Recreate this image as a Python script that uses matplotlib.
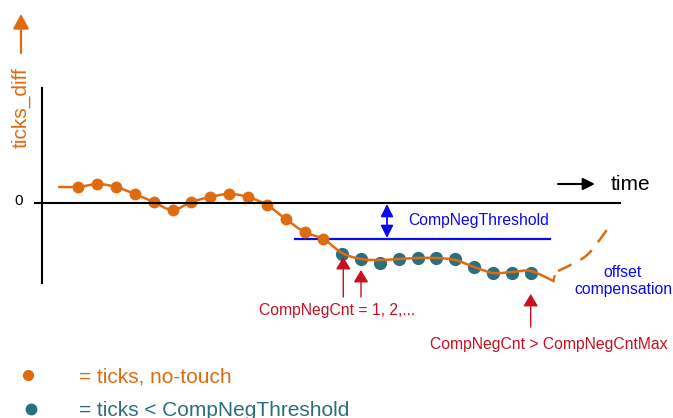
import numpy as np
import matplotlib
matplotlib.use("Agg")
import matplotlib.pyplot as plt

plt.rcParams['font.family'] = ['Liberation Sans', 'DejaVu Sans']

ORANGE = "#DE6B10"
TEAL = "#2B6F7E"
BLUE = "#0A0AF0"
RED = "#C8101E"

# samples (time index) and ticks_diff values
t_orange = list(range(1, 15))
v_orange = [16, 19, 16, 9, 1, -7, 1, 6, 9, 6, -2, -16, -29, -36]
t_teal = list(range(15, 26))
v_teal = [-51, -56, -60, -56, -55, -55, -56, -64, -70, -70, -70]
# the underlying signal drawn as a line (runs just over the teal samples)
t_curve = [0, 1, 2, 3, 4, 5, 6, 7, 8, 9, 10, 11, 12, 13, 14,
           15, 16, 17, 18, 19, 20, 21, 22, 23, 24, 25, 26.2]
v_curve = [16, 16, 19, 16, 9, 1, -7, 1, 6, 9, 6, -2, -16, -29, -36,
           -50, -56, -57, -56, -55, -55, -57, -64, -70, -69, -68, -78]
# small hook at the end and the dashed "offset compensation" part
t_hook = [26.2, 26.27]
v_hook = [-78, -73]
t_dash = [26.45, 27.2, 28.1, 29.3]
v_dash = [-68, -61, -50, -20]
threshold = -36


def smooth(xs, ys, n=12):
    # catmull-rom through the points, only for drawing the line
    xs = np.asarray(xs, float)
    ys = np.asarray(ys, float)
    px = np.r_[xs[0], xs, xs[-1]]
    py = np.r_[ys[0], ys, ys[-1]]
    ox, oy = [], []
    s = np.linspace(0, 1, n, endpoint=False)
    for i in range(1, len(px) - 2):
        for a, out in ((px, ox), (py, oy)):
            p0, p1, p2, p3 = a[i - 1], a[i], a[i + 1], a[i + 2]
            out.extend(0.5 * (2 * p1 + (-p0 + p2) * s
                              + (2 * p0 - 5 * p1 + 4 * p2 - p3) * s ** 2
                              + (-p0 + 3 * p1 - 3 * p2 + p3) * s ** 3))
    ox.append(xs[-1])
    oy.append(ys[-1])
    return ox, oy


fig = plt.figure(figsize=(6.73, 4.18), dpi=100)

# data axes: 1 sample = 18.85 px, zero line at y=203 px
ax = fig.add_axes([0, 0, 1, 1])
ax.set_xlim(-59.45 / 18.85, (673 - 59.45) / 18.85)
ax.set_ylim(-215, 203)
ax.axis("off")

# overlay in pixel coordinates for the labels and arrows
ov = fig.add_axes([0, 0, 1, 1])
ov.set_xlim(0, 673)
ov.set_ylim(418, 0)
ov.axis("off")
ov.patch.set_alpha(0)

# axes lines
ov.plot([41.7, 41.7], [88, 283], color="black", lw=1.5)
ov.plot([35, 620], [203, 203], color="black", lw=1.5)
ov.text(19, 201, "0", fontsize=11, ha="center", va="center")

# curve
cx, cy = smooth(t_curve, v_curve)
ax.plot(cx, cy, color=ORANGE, lw=1.8, zorder=2)
ax.plot(t_hook, v_hook, color=ORANGE, lw=1.5, zorder=2)
dx, dy = smooth(t_dash, v_dash)
ax.plot(dx, dy, color=ORANGE, lw=1.8, dashes=(6, 4))

# threshold line
ax.plot([12.5, 26.0], [threshold, threshold], color=BLUE, lw=1.6, zorder=1)

ax.plot(t_orange, v_orange, "o", color=ORANGE, ms=7.5, zorder=3)
ax.plot(t_teal, v_teal, "o", color=TEAL, ms=8.5, zorder=1.5)

# y label with arrow
ov.text(21, 108, "ticks_diff", color=ORANGE, fontsize=15, rotation=90,
        ha="center", va="center")
ov.annotate("", xy=(21, 14), xytext=(21, 53),
            arrowprops=dict(arrowstyle="-|>,head_width=0.3,head_length=0.55",
                            color=ORANGE, lw=1.6,
                            mutation_scale=16, shrinkA=0, shrinkB=0))

# time arrow
ov.annotate("", xy=(595, 184), xytext=(558, 184),
            arrowprops=dict(arrowstyle="-|>", color="black", lw=1.5,
                            mutation_scale=18, shrinkA=0, shrinkB=0))
ov.text(611, 184, "time", fontsize=15, ha="left", va="center")

# threshold double arrow
ov.annotate("", xy=(387, 204), xytext=(387, 238),
            arrowprops=dict(arrowstyle="<|-|>,head_width=0.25,head_length=0.5",
                            color=BLUE, lw=1.3,
                            mutation_scale=15, shrinkA=0, shrinkB=0))
ov.text(408, 221, "CompNegThreshold", color=BLUE, fontsize=11.3,
        ha="left", va="center")

# counter arrows
for x, y0, y1 in [(343.3, 297, 257), (361, 297, 270), (530.7, 327, 294)]:
    ov.annotate("", xy=(x, y1), xytext=(x, y0),
                arrowprops=dict(arrowstyle="-|>,head_width=0.3,head_length=0.5",
                                color=RED, lw=1.0,
                                mutation_scale=15, shrinkA=0, shrinkB=0))
ov.text(337, 311, "CompNegCnt = 1, 2,...", color=RED, fontsize=11.3,
        ha="center", va="center")
ov.text(430, 344, "CompNegCnt > CompNegCntMax", color=RED, fontsize=11.3,
        ha="left", va="center")

ov.text(623, 281, "offset\ncompensation", color=BLUE, fontsize=11.3,
        ha="center", va="center", linespacing=1.1)

# legend
ov.plot([28.3], [374.5], "o", color=ORANGE, ms=7)
ov.plot([30.5], [409], "o", color=TEAL, ms=7.5)
ov.text(79, 377, "= ticks, no-touch", color=ORANGE, fontsize=15,
        ha="left", va="center")
ov.text(79, 410, "= ticks < CompNegThreshold", color=TEAL, fontsize=15,
        ha="left", va="center")

fig.savefig("out.png", dpi=100)
